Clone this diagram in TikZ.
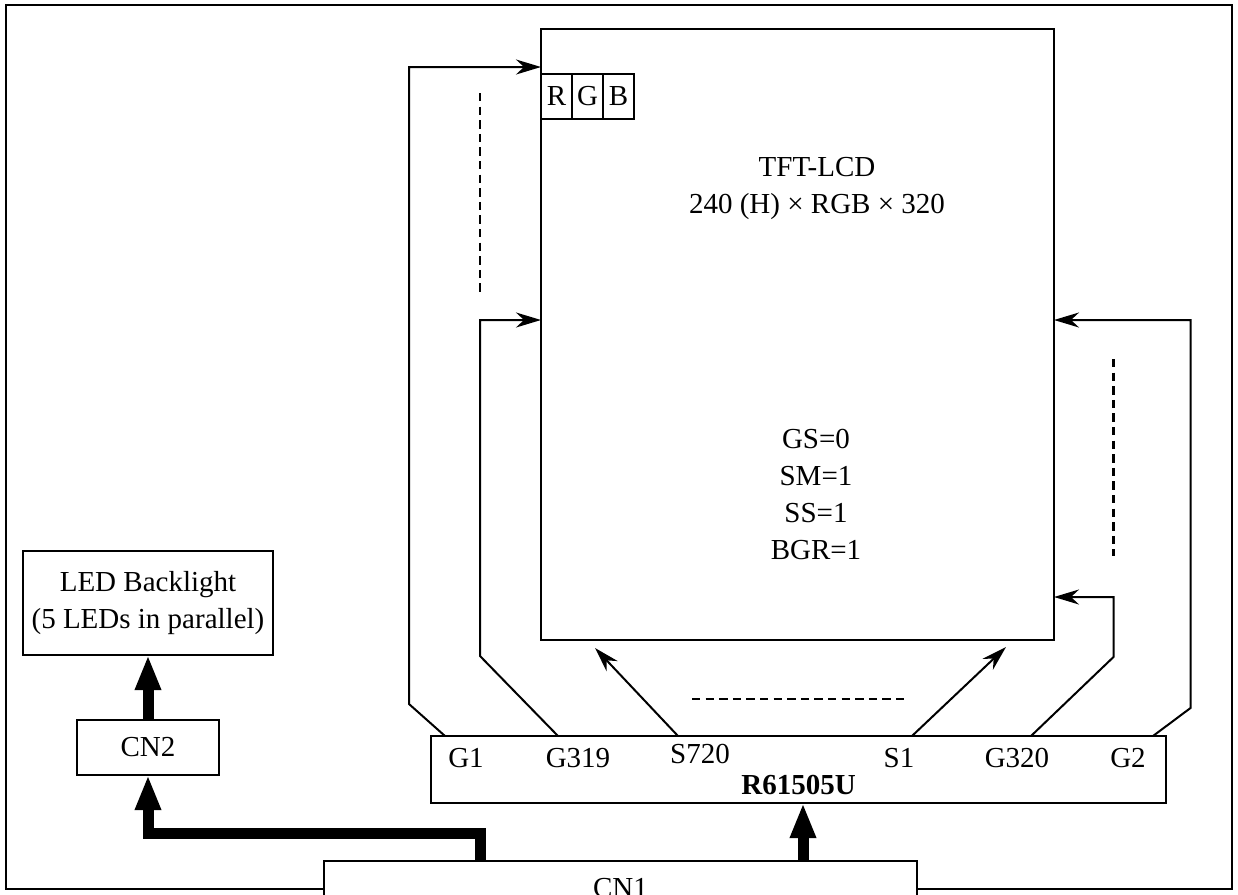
\documentclass[tikz,border=0pt]{standalone}
\usepackage{fontspec}
\setmainfont{Liberation Serif}
\usetikzlibrary{arrows.meta,positioning,calc}

\begin{document}
\begin{tikzpicture}[x=0.5pt, y=-0.5pt,
  font=\fontsize{14.5}{18.5}\selectfont,
  wire/.style={line width=1pt},
  sigarrow/.style={wire, -{Stealth[length=12.5pt, width=7.5pt, inset=4pt]}},
  busarrow/.style={line width=5.5pt, -{Triangle[length=17.5pt, width=12pt]}},
  blk/.style={draw, line width=1pt, inner sep=0pt, outer sep=0pt, align=center},
  gapline/.style={line width=1.3pt, dash pattern=on 4.2pt off 2.6pt},
]
\useasboundingbox (0,0) rectangle (1238,895);
\clip (0,0) rectangle (1238,895);
% outer frame
\draw[wire] (6,5) rectangle (1232,889);

% panel and driver
\node[blk, minimum width=256.5pt, minimum height=305.5pt] (lcd) at (797.5,334.5) {};
\node[blk, minimum width=15.5pt, minimum height=22.5pt, anchor=north west] (cellR) at (541,74) {R};
\node[blk, minimum width=15.5pt, minimum height=22.5pt, right=0pt of cellR] (cellG) {G};
\node[blk, minimum width=15.5pt, minimum height=22.5pt, right=0pt of cellG] (cellB) {B};
\node[align=center, inner sep=0pt] (lcdname) at (817,188.5) {TFT-LCD\\240 (H) × RGB × 320};
\node[align=center, inner sep=0pt] (regs) at (816,494) {GS=0\\SM=1\\SS=1\\BGR=1};

\node[blk, minimum width=367.5pt, minimum height=33.5pt] (chip) at (798.5,769.5) {};
\node[anchor=base, inner sep=0pt, font=\fontsize{14.5}{18.5}\selectfont\bfseries] (chipname) at (798.5,794) {R61505U};
\foreach \nm/\xx/\yy in {G1/466/767, G319/578/767, S720/700/763, S1/899/767, G320/1017/767, G2/1128/767}
  \node[anchor=base, inner sep=0pt] (l\nm) at (\xx,\yy) {\nm};
\foreach \nm/\xx in {G1/445, G319/558, S720/678, S1/912, G320/1031, G2/1153}
  \coordinate (p\nm) at (\xx,736);

% connectors and backlight
\node[blk, fill=white, minimum width=296.5pt, minimum height=27pt] (cn1) at (620.5,888) {CN1};
\node[blk, minimum width=71pt, minimum height=27.5pt] (cn2) at (148,747.5) {CN2};
\node[blk, minimum width=125pt, minimum height=52pt] (led) at (148,603) {LED Backlight\\(5 LEDs in parallel)};

% gate lines
\draw[sigarrow] (pG1) -- (409,704) -- (409,67) -- (lcd.west |- 409,67);
\draw[sigarrow] (pG319) -- (480,656) -- (480,320) -- (lcd.west |- 480,320);
\draw[sigarrow] (pG320) -- (1113.5,657) -- (1113.5,597) -- (lcd.east |- 1113.5,597);
\draw[sigarrow] (pG2) -- (1190.5,708) -- (1190.5,320) -- (lcd.east |- 1190.5,320);
% source lines
\coordinate (tS720) at (595,648);
\coordinate (tS1) at (1006,647);
\draw[sigarrow] (pS720) -- (tS720);
\draw[sigarrow] (pS1) -- (tS1);
\draw[gapline] (480,93) -- (480,295);
\draw[gapline] (1113.5,359) -- (1113.5,556);
\draw[gapline] (692,699) -- (905,699);

% buses
\coordinate (chipin) at (803,803);
\coordinate (cn2feed) at (480,833);
\draw[busarrow] (chipin |- cn1.north) -- (chipin);
\draw[busarrow] (cn2feed |- cn1.north) -- (cn2feed) -| (cn2.south);
\draw[busarrow] (cn2.north) -- (led.south);
\end{tikzpicture}
\end{document}
